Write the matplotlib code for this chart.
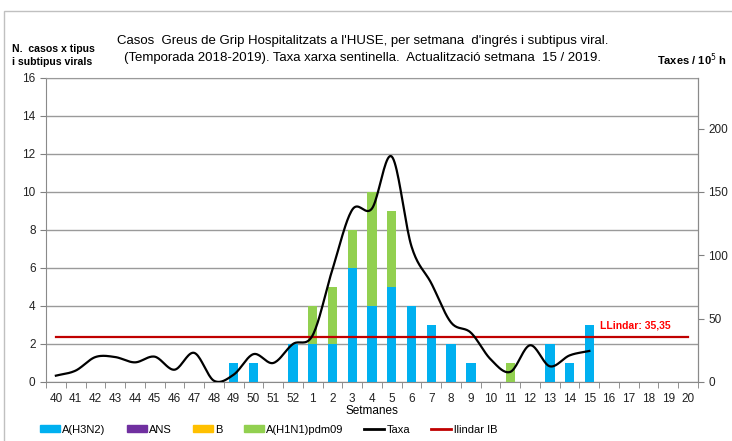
import numpy as np
import matplotlib
matplotlib.use("Agg")
import matplotlib.pyplot as plt
from matplotlib.patches import Patch, Rectangle
from matplotlib.lines import Line2D

weeks = [str(w) for w in range(40, 53)] + [str(w) for w in range(1, 21)]

# casos per setmana i subtipus
h3n2 = [0]*9 + [1, 1, 0, 2, 2, 2, 6, 4, 5, 4, 3, 2, 1, 0, 0, 0, 2, 1, 3] + [0]*5
ans_ = [0]*33
b_ = [0]*33
h1n1 = [0]*13 + [2, 3, 2, 6, 4, 0, 0, 0, 0, 0, 1, 0, 0, 0, 0] + [0]*5

# taxa xarxa sentinella (setmanes 40..15)
taxa = [5, 9, 19.7, 19.7, 15.5, 20, 9.7, 23, 1, 5.8, 22, 15, 30,
        37, 89, 136, 137, 178, 107, 78, 47, 39, 18, 8, 29, 12.4, 21, 24.5]
llindar = 35.35

c_h3 = '#00B0F0'
c_ans = '#7030A0'
c_b = '#FFC000'
c_h1 = '#92D050'
c_red = '#C00000'


def catmull(xs, ys, n=20):
    xs = np.asarray(xs, float)
    ys = np.asarray(ys, float)
    px = np.concatenate([[2*xs[0]-xs[1]], xs, [2*xs[-1]-xs[-2]]])
    py = np.concatenate([[2*ys[0]-ys[1]], ys, [2*ys[-1]-ys[-2]]])
    ox, oy = [], []
    for i in range(1, len(px)-2):
        t = np.linspace(0, 1, n, endpoint=False)
        for p, o in ((px, ox), (py, oy)):
            p0, p1, p2, p3 = p[i-1], p[i], p[i+1], p[i+2]
            o.extend(0.5*((2*p1) + (-p0+p2)*t + (2*p0-5*p1+4*p2-p3)*t**2
                          + (-p0+3*p1-3*p2+p3)*t**3))
    ox.append(xs[-1])
    oy.append(ys[-1])
    return np.array(ox), np.array(oy)


plt.rcParams['font.family'] = ['Liberation Sans', 'DejaVu Sans']
fig = plt.figure(figsize=(7.32, 4.41), dpi=100)
ax = fig.add_axes([46/732, 59/441, 652/732, 304/441])
x = np.arange(len(weeks))

ax.bar(x, h3n2, width=0.48, color=c_h3, zorder=3)
bot = np.array(h3n2)
ax.bar(x, ans_, width=0.48, bottom=bot, color=c_ans, zorder=3)
bot = bot + np.array(ans_)
ax.bar(x, b_, width=0.48, bottom=bot, color=c_b, zorder=3)
bot = bot + np.array(b_)
ax.bar(x, h1n1, width=0.48, bottom=bot, color=c_h1, zorder=3)

ax.set_xlim(-0.5, len(weeks)-0.5)
ax.set_ylim(0, 16)
ax.set_yticks(range(0, 17, 2))
ax.set_xticks(x)
ax.set_xticklabels(weeks)
ax.set_xticks(np.arange(-0.5, len(weeks), 1), minor=True)
ax.tick_params(axis='x', which='major', length=0, pad=8, labelsize=8.5, colors='#222222')
ax.tick_params(axis='x', which='minor', length=4, color='#808080')
ax.tick_params(axis='y', length=4, color='#808080', labelsize=8.5, labelcolor='#222222')
ax.grid(axis='y', color='#9a9a9a', linewidth=1, zorder=0)
for s in ax.spines.values():
    s.set_color('#8a8a8a')
ax.spines['top'].set_color('#9a9a9a')
ax.set_xlabel('Setmanes', fontsize=8.5, labelpad=0)

ax2 = ax.twinx()
ax2.set_ylim(0, 240)
ax2.set_yticks(range(0, 201, 50))
ax2.tick_params(axis='y', length=4, color='#808080', labelsize=8.5, labelcolor='#222222')
for s in ax2.spines.values():
    s.set_visible(False)
ax2.spines['right'].set_visible(True)
ax2.spines['right'].set_color('#8a8a8a')

sx, sy = catmull(x[:len(taxa)], taxa)
ax2.plot(sx, sy, color='black', linewidth=1.6, zorder=5)
ax2.plot([x[0], x[-1]], [llindar, llindar], color=c_red, linewidth=1.6, zorder=4)
ax2.text(x[27] + 0.55, llindar + 7, 'LLindar: 35,35', color='#FF0000', fontsize=7.5,
         fontweight='bold')

fig.text(0.495, 0.888, "Casos  Greus de Grip Hospitalitzats a l'HUSE, per setmana  d'ingrés i subtipus viral.\n"
         "(Temporada 2018-2019). Taxa xarxa sentinella.  Actualització setmana  15 / 2019.",
         ha='center', va='center', fontsize=9.5, linespacing=1.5)
fig.text(12/732, 0.875, 'N.  casos x tipus\ni subtipus virals', ha='left', va='center',
         fontsize=7.6, fontweight='bold', linespacing=1.35)
fig.text(0.993, 0.865, 'Taxes / 10$^5$ h', ha='right', va='center', fontsize=8,
         fontweight='bold')

handles = [Patch(color=c_h3), Patch(color=c_ans), Patch(color=c_b), Patch(color=c_h1),
           Line2D([], [], color='black', linewidth=2), Line2D([], [], color=c_red, linewidth=2)]
labels = ['A(H3N2)', 'ANS', 'B', 'A(H1N1)pdm09', 'Taxa', 'llindar IB']
fig.legend(handles, labels, loc='center', bbox_to_anchor=(0.367, 0.026), ncol=6,
           frameon=False, fontsize=8, handlelength=1.8, handleheight=0.55,
           columnspacing=1.9, handletextpad=0.2)

fig.patches.append(Rectangle((4/732, -0.05), 1.2, 1.025, transform=fig.transFigure,
                             fill=False, edgecolor='#c0c0c0', linewidth=1))
fig.savefig('out.png', dpi=100)
